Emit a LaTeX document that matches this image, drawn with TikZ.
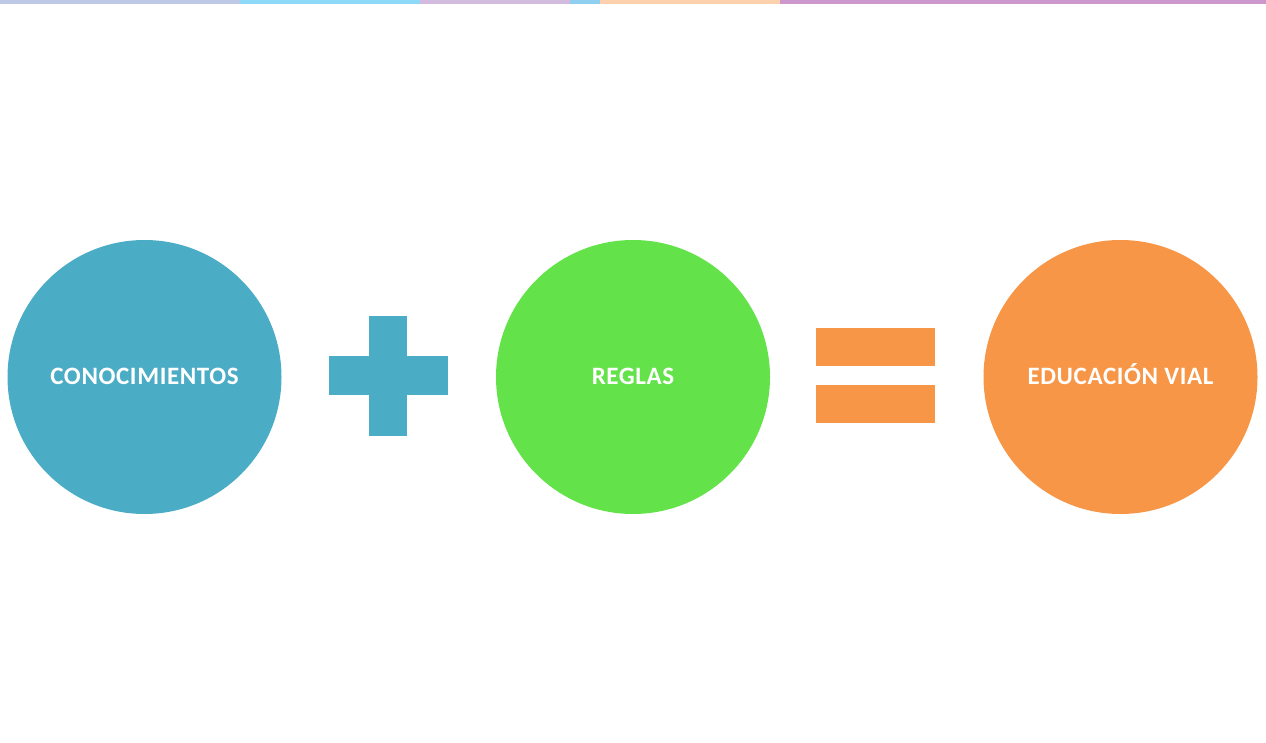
\documentclass[tikz,border=0pt]{standalone}
\usepackage{fontspec}
\setmainfont{Carlito}
\newfontfamily\bolafont[LetterSpace=2.5]{Carlito}
\usepackage{tikz}
\usetikzlibrary{positioning,calc}
\definecolor{bolablue}{HTML}{4BACC6}
\definecolor{bolagreen}{HTML}{63E24A}
\definecolor{bolaorange}{HTML}{F79646}

\begin{document}
\begin{tikzpicture}[
		x=1pt, y=-1pt,
		bola/.style={circle,draw=none,minimum size=274pt,inner sep=0pt,
			text height=18pt,text depth=3pt,
			text=white,font=\bolafont\fontsize{25}{25}\selectfont\bfseries},
		barra/.style={draw=none},
		tira/.style={draw=none,fill opacity=0.45}
	]

	\useasboundingbox (0,0) rectangle (1266,743);

	% franja de arriba
	\fill[tira,fill=magenta!40!cyan] (0,0) rectangle (240,4);
	\fill[tira,fill=cyan] (240,0) rectangle (420,4);
	\fill[tira,fill=magenta!60!cyan] (420,0) rectangle (570,4);
	\fill[tira,fill=cyan!80!blue] (570,0) rectangle (600,4);
	\fill[tira,fill=bolaorange] (600,0) rectangle (780,4);
	\fill[tira,fill=magenta!50!blue] (780,0) rectangle (1266,4);

	\node[bola,fill=bolablue] (conoc) at (144.5,377) {CONOCIMIENTOS};
	\node[bola,fill=bolagreen] (reglas) at (633,377) {REGLAS};
	\node[bola,fill=bolaorange] (educ) at (1120.5,377) {EDUCACIÓN VIAL};

	% signo mas
	\fill[barra,bolablue] (369,316) rectangle (407,436);
	\fill[barra,bolablue] (329,356) rectangle (448,395);

	% signo igual
	\fill[barra,bolaorange] (816,328) rectangle (935,366);
	\fill[barra,bolaorange] (816,385) rectangle (935,423);

\end{tikzpicture}
\end{document}
